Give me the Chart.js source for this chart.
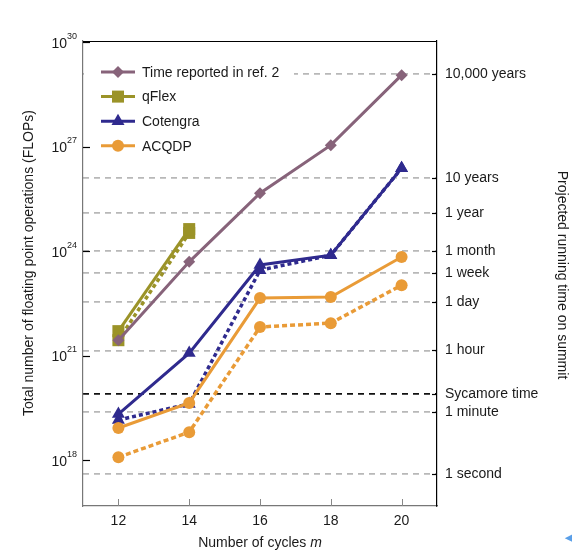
<!DOCTYPE html>
<html>
<head>
<meta charset="utf-8">
<script src="https://cdn.jsdelivr.net/npm/chart.js@4/dist/chart.umd.min.js"></script>
<style>
  html, body { margin: 0; padding: 0; background: #fff; }
  #wrap { width: 572px; height: 554px; }
</style>
</head>
<body>
<div id="wrap"><canvas id="chart" width="572" height="554"></canvas></div>
<script>
// x values: number of cycles
const cycles = [12, 14, 16, 18, 20];
// log10 of FLOPs (solid = main line, dotted = second line)
const ref2Flops      = [21.44, 23.69, 25.66, 27.04, 29.05];
const qflexFlops     = [21.70, 24.63];
const qflexDotted    = [21.44, 24.52];
const cotengraFlops  = [19.32, 21.07, 23.60, 23.88, 26.38];
const cotengraDotted = [19.15, 19.61, 23.45, 23.88, 26.38];
const acqdpFlops     = [18.92, 19.64, 22.65, 22.68, 23.83];
const acqdpDotted    = [18.08, 18.80, 21.82, 21.93, 23.02];

// left axis ticks (powers of ten)
const leftTicks = [18, 21, 24, 27, 30];
// right axis: running time on summit
const timeLabels  = ['1 second', '1 minute', 'Sycamore time', '1 hour', '1 day', '1 week', '1 month', '1 year', '10 years', '10,000 years'];
const timeSeconds = [1, 60, 200, 3600, 86400, 604800, 2592000, 31536000, 315360000, 315360000000];
const summitLog = 17.59; // log10 FLOPs done by summit in one second

const FONT = 'Liberation Sans, Arial, Helvetica, sans-serif';
const mauve = '#87637a', olive = '#9b9328', navy = '#2f2a8e', orange = '#e99b37';

Chart.defaults.font.family = FONT;

const pts = (arr) => arr.map((v, i) => ({ x: cycles[i], y: v }));

const legendItems = [
  { text: 'Time reported in ref. 2', color: mauve, style: 'rectRot', r: 6 },
  { text: 'qFlex', color: olive, style: 'rect', r: 8.5 },
  { text: 'Cotengra', color: navy, style: 'triangle', r: 7.5 },
  { text: 'ACQDP', color: orange, style: 'circle', r: 6 },
];

const marker = (ctx, style, r, x, y) => {
  if (Chart.helpers && Chart.helpers.drawPoint) {
    Chart.helpers.drawPoint(ctx, { pointStyle: style, radius: r, rotation: 0, borderWidth: 0 }, x, y);
    return;
  }
  ctx.beginPath();
  if (style === 'circle') ctx.arc(x, y, r, 0, Math.PI * 2);
  else if (style === 'rect') { const s = r * Math.SQRT1_2; ctx.rect(x - s, y - s, 2 * s, 2 * s); }
  else if (style === 'rectRot') { ctx.moveTo(x - r, y); ctx.lineTo(x, y - r); ctx.lineTo(x + r, y); ctx.lineTo(x, y + r); ctx.closePath(); }
  else { ctx.moveTo(x, y - r); ctx.lineTo(x + r * 0.866, y + r / 2); ctx.lineTo(x - r * 0.866, y + r / 2); ctx.closePath(); }
  ctx.fill();
};

const decor = {
  id: 'decor',
  beforeDatasetsDraw(chart) { // legend box sits over the grid
    const ctx = chart.ctx;
    const a = chart.chartArea;
    ctx.save();
    ctx.fillStyle = '#fff';
    ctx.fillRect(a.left + 1, 58, 210, 102);
    legendItems.forEach((it, i) => {
      const y = 72 + i * 24.6;
      ctx.strokeStyle = it.color;
      ctx.lineWidth = 3;
      ctx.beginPath();
      ctx.moveTo(101, y);
      ctx.lineTo(135, y);
      ctx.stroke();
      ctx.fillStyle = it.color;
      marker(ctx, it.style, it.r, 118, y);
      ctx.fillStyle = '#1a1a1a';
      ctx.font = '14px ' + FONT;
      ctx.textBaseline = 'middle';
      ctx.textAlign = 'left';
      ctx.fillText(it.text, 142, y + 1);
    });
    ctx.restore();
  },
  afterDraw(chart) {
    const ctx = chart.ctx;
    const a = chart.chartArea;
    const yS = chart.scales.y, xS = chart.scales.x, y2 = chart.scales.y2;
    ctx.save();
    // top frame
    ctx.strokeStyle = '#000';
    ctx.lineWidth = 1.2;
    ctx.beginPath();
    ctx.moveTo(a.left, a.top + 0.5);
    ctx.lineTo(a.right, a.top + 0.5);
    ctx.stroke();
    // inward ticks, left
    leftTicks.forEach(v => {
      const y = Math.round(yS.getPixelForValue(v)) + 0.5;
      ctx.beginPath();
      ctx.moveTo(a.left, y);
      ctx.lineTo(a.left + 7, y);
      ctx.stroke();
    });
    // inward ticks, right
    y2.ticks.forEach(t => {
      const y = Math.round(y2.getPixelForValue(t.value)) + 0.5;
      ctx.beginPath();
      ctx.moveTo(a.right - 5, y);
      ctx.lineTo(a.right, y);
      ctx.stroke();
    });
    // inward ticks, bottom
    ctx.strokeStyle = '#888';
    ctx.lineWidth = 1;
    cycles.forEach(c => {
      const x = Math.round(xS.getPixelForValue(c)) + 0.5;
      ctx.beginPath();
      ctx.moveTo(x, a.bottom);
      ctx.lineTo(x, a.bottom - 7);
      ctx.stroke();
    });
    // left tick labels 10^n
    ctx.fillStyle = '#1a1a1a';
    ctx.textBaseline = 'middle';
    leftTicks.forEach(v => {
      const y = yS.getPixelForValue(v);
      ctx.font = '9px ' + FONT;
      const exp = String(v);
      const ew = ctx.measureText(exp).width;
      ctx.textAlign = 'left';
      ctx.fillText(exp, 77 - ew, y - 6);
      ctx.font = '14px ' + FONT;
      ctx.textAlign = 'right';
      ctx.fillText('10', 77 - ew, y + 2);
    });
    // axis titles
    ctx.font = '14px ' + FONT;
    ctx.textAlign = 'center';
    ctx.save();
    ctx.translate(29, 263);
    ctx.rotate(-Math.PI / 2);
    ctx.fillText('Total number of floating point operations (FLOPs)', 0, 0);
    ctx.restore();
    ctx.save();
    ctx.translate(562, 275);
    ctx.rotate(Math.PI / 2);
    ctx.fillText('Projected running time on summit', 0, 0);
    ctx.restore();
    const t1 = 'Number of cycles ';
    ctx.font = '14px ' + FONT;
    const w1 = ctx.measureText(t1).width;
    ctx.font = 'italic 14px ' + FONT;
    const w2 = ctx.measureText('m').width;
    const x0 = (a.left + a.right) / 2 - (w1 + w2) / 2;
    ctx.textAlign = 'left';
    ctx.font = '14px ' + FONT;
    ctx.fillText(t1, x0, 543);
    ctx.font = 'italic 14px ' + FONT;
    ctx.fillText('m', x0 + w1, 543);
    // little arrow at the page corner
    ctx.fillStyle = '#5a9fe8';
    ctx.font = '11px DejaVu Sans';
    ctx.textAlign = 'center';
    ctx.fillText('\u25C0', 569, 538);
    ctx.restore();
  }
};

const ctx = document.getElementById('chart').getContext('2d');
window.myChart = new Chart(ctx, {
  type: 'line',
  data: {
    datasets: [
      { label: 'ACQDP', data: pts(acqdpFlops), borderColor: orange, backgroundColor: orange,
        borderWidth: 3, pointStyle: 'circle', pointRadius: 6, order: 0 },
      { label: 'ACQDP dotted', data: pts(acqdpDotted), borderColor: orange, backgroundColor: orange,
        borderWidth: 3.5, borderDash: [5, 3], pointStyle: 'circle', pointRadius: 6, order: 1 },
      { label: 'Cotengra', data: pts(cotengraFlops), borderColor: navy, backgroundColor: navy,
        borderWidth: 3, pointStyle: 'triangle', pointRadius: 7.5, order: 2 },
      { label: 'Cotengra dotted', data: pts(cotengraDotted), borderColor: navy, backgroundColor: navy,
        borderWidth: 3.5, borderDash: [4, 3], pointStyle: 'triangle', pointRadius: 7.5, order: 3 },
      { label: 'Time reported in ref. 2', data: pts(ref2Flops), borderColor: mauve, backgroundColor: mauve,
        borderWidth: 3, pointStyle: 'rectRot', pointRadius: 6, order: 4 },
      { label: 'qFlex', data: pts(qflexFlops), borderColor: olive, backgroundColor: olive,
        borderWidth: 3, pointStyle: 'rect', pointRadius: 8.5, order: 5 },
      { label: 'qFlex dotted', data: pts(qflexDotted), borderColor: olive, backgroundColor: olive,
        borderWidth: 3.5, borderDash: [4, 3], pointStyle: 'rect', pointRadius: 8.5, order: 6 },
    ].map(d => Object.assign({ pointBorderWidth: 0, pointHoverRadius: d.pointRadius, tension: 0, fill: false }, d))
  },
  options: {
    responsive: false,
    animation: false,
    events: [],
    layout: { padding: { top: 41, left: 0, right: 0, bottom: 0 } },
    plugins: { legend: { display: false }, tooltip: { enabled: false } },
    scales: {
      x: {
        type: 'linear', min: 11, max: 21,
        afterBuildTicks: s => { s.ticks = cycles.map(v => ({ value: v })); },
        afterFit: s => { s.height = 48; },
        ticks: { color: '#1a1a1a', font: { size: 14 }, padding: 7 },
        grid: { display: false, drawTicks: false },
        border: { color: '#777', width: 1.2 }
      },
      y: {
        type: 'linear', position: 'left', min: 16.68, max: 30.03,
        afterFit: s => { s.width = 83; },
        ticks: { display: false },
        grid: { display: false, drawTicks: false },
        border: { color: '#777', width: 1.2 }
      },
      y2: {
        type: 'linear', position: 'right', min: 16.68, max: 30.03,
        afterBuildTicks: s => { s.ticks = timeSeconds.map(sec => ({ value: summitLog + Math.log10(sec) })); },
        afterFit: s => { s.width = 135; },
        ticks: { callback: (v, i) => timeLabels[i], color: '#1a1a1a', font: { size: 14 }, padding: 8, autoSkip: false },
        grid: {
          drawTicks: false,
          color: c => timeLabels[c.index] === 'Sycamore time' ? '#111' : '#b8b8b8',
          lineWidth: 1.8
        },
        border: { color: '#000', width: 1.2, dash: [6, 5] }
      }
    }
  },
  plugins: [decor]
});
</script>
</body>
</html>
